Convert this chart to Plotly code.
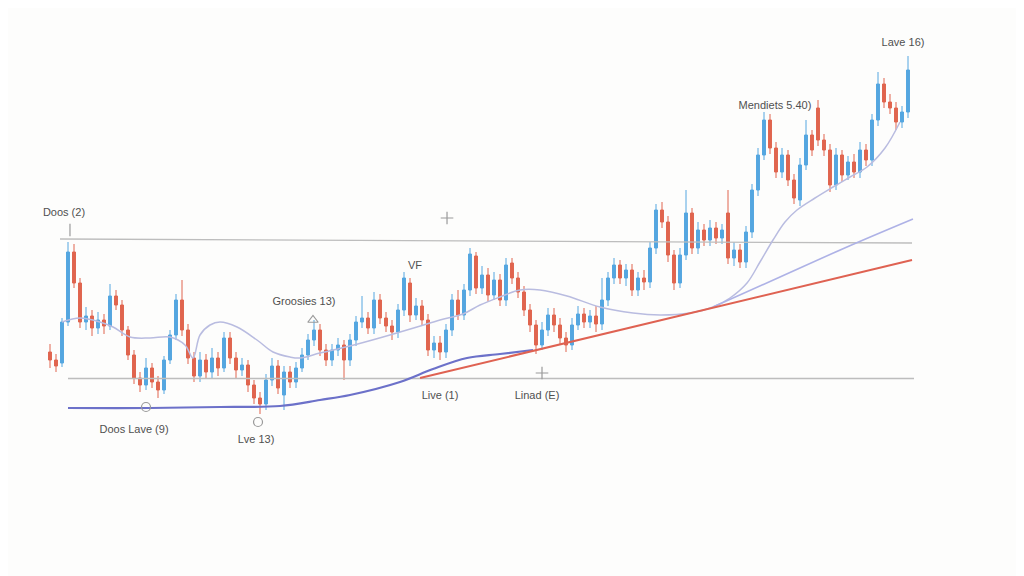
import plotly.graph_objects as go

# ---- candle data (price units) ----
opens = [22.4, 21.6, 21.3, 25.4, 32.4, 29.3, 25.4, 26.0, 24.8, 25.6,
         25.0, 28.0, 27.1, 24.6, 22.1, 19.8, 19.1, 20.8, 19.4, 18.6,
         21.6, 24.1, 27.6, 24.6, 21.8, 20.0, 21.6, 20.4, 21.8, 20.8,
         23.8, 21.8, 20.6, 21.1, 19.1, 17.8, 17.2, 19.6, 21.0, 18.1,
         20.4, 19.4, 20.8, 22.1, 23.6, 24.6, 22.6, 21.6, 22.6, 23.1,
         21.6, 23.6, 25.4, 25.8, 24.8, 27.6, 25.8, 25.0, 24.4, 26.6,
         29.3, 26.1, 27.0, 25.6, 22.6, 23.3, 22.4, 24.6, 27.6, 26.1,
         28.6, 32.0, 28.8, 30.1, 28.1, 29.6, 27.6, 31.3, 29.8, 28.4,
         26.6, 25.1, 23.1, 24.6, 26.1, 25.1, 23.8, 23.1, 25.1, 26.2,
         25.4, 26.0, 25.2, 27.6, 29.8, 31.1, 29.8, 30.6, 28.6, 29.8,
         29.4, 32.8, 36.6, 35.4, 32.1, 29.3, 32.1, 36.3, 32.8, 34.6,
         33.6, 34.8, 33.8, 36.3, 31.8, 32.6, 31.4, 34.4, 38.6, 42.1,
         45.6, 42.8, 40.4, 42.1, 39.6, 37.6, 41.1, 44.1, 46.8, 43.6,
         42.6, 39.1, 42.1, 40.1, 41.4, 40.4, 42.6, 41.6, 45.6, 49.2,
         47.4, 46.8, 45.4, 46.4]
closes = [21.6, 21.0, 25.4, 32.4, 29.3, 25.4, 26.0, 24.8, 25.6, 25.0,
          28.0, 27.1, 24.6, 22.1, 19.8, 19.1, 20.8, 19.4, 18.6, 21.6,
          24.1, 27.6, 24.6, 21.8, 20.0, 21.6, 20.4, 21.8, 20.8, 23.8,
          21.8, 20.6, 21.1, 19.1, 17.8, 17.2, 19.6, 21.0, 18.8, 20.4,
          19.4, 20.8, 22.1, 23.6, 24.6, 22.6, 21.6, 22.6, 23.1, 21.6,
          23.6, 25.4, 25.8, 24.8, 27.6, 25.8, 25.0, 24.4, 26.6, 29.8,
          26.1, 27.0, 25.6, 22.6, 23.3, 22.4, 24.6, 27.6, 26.1, 28.6,
          32.2, 28.8, 30.1, 28.1, 29.6, 27.6, 31.1, 29.8, 28.4, 26.6,
          25.1, 23.1, 24.6, 26.1, 25.1, 23.8, 23.1, 25.1, 26.2, 25.4,
          26.0, 25.2, 27.6, 29.8, 31.1, 29.8, 30.6, 28.6, 29.8, 29.4,
          32.8, 36.6, 35.4, 32.1, 29.3, 32.1, 36.3, 32.8, 34.6, 33.6,
          34.8, 33.8, 34.6, 31.8, 32.6, 31.4, 34.4, 38.6, 42.1, 45.6,
          42.8, 40.4, 42.1, 39.6, 37.8, 41.1, 44.1, 42.6, 43.6, 42.6,
          39.1, 42.1, 40.1, 41.4, 40.4, 42.6, 41.6, 45.6, 49.2, 47.4,
          46.8, 45.4, 46.4, 50.6]
highs = [23.2, 22.2, 25.8, 33.4, 33.2, 29.8, 26.9, 26.6, 26.4, 26.2,
         29.2, 28.6, 27.6, 25.0, 22.6, 20.4, 21.8, 21.3, 20.0, 22.0,
         24.6, 28.2, 29.6, 25.2, 22.4, 22.4, 22.2, 22.8, 22.4, 24.4,
         24.4, 22.4, 21.8, 21.6, 19.6, 18.4, 20.2, 21.8, 21.6, 21.0,
         21.0, 21.4, 22.8, 24.2, 25.6, 25.2, 23.2, 23.2, 23.8, 23.6,
         24.2, 26.0, 28.0, 26.4, 28.4, 28.2, 26.4, 25.6, 27.2, 30.4,
         29.8, 27.8, 27.6, 26.2, 24.0, 24.0, 25.2, 28.2, 28.6, 29.2,
         32.8, 32.4, 31.0, 30.8, 30.4, 30.2, 31.8, 31.8, 30.4, 29.0,
         27.2, 25.6, 25.4, 26.8, 26.8, 25.8, 24.4, 25.8, 27.0, 26.8,
         26.6, 27.0, 29.8, 30.4, 31.8, 31.6, 31.2, 31.2, 30.4, 30.6,
         33.4, 37.2, 37.4, 36.0, 32.6, 32.8, 38.6, 36.8, 35.4, 35.2,
         35.6, 35.4, 35.2, 38.6, 33.4, 33.2, 35.0, 39.2, 42.8, 46.4,
         46.2, 43.4, 42.8, 42.6, 40.2, 41.8, 45.6, 44.6, 47.6, 44.2,
         43.2, 42.8, 42.6, 42.0, 42.2, 43.4, 43.2, 46.2, 50.4, 49.8,
         48.2, 47.4, 47.0, 52.0]
lows = [20.8, 20.4, 20.9, 25.0, 28.8, 24.8, 24.6, 24.0, 24.2, 24.2,
        24.6, 26.6, 24.0, 21.6, 19.2, 18.4, 18.6, 18.8, 17.8, 18.2,
        21.2, 23.6, 24.0, 21.2, 19.4, 19.4, 19.8, 19.8, 20.0, 20.4,
        21.2, 19.8, 20.0, 18.4, 17.2, 16.2, 16.6, 19.0, 18.2, 16.6,
        18.8, 18.8, 20.4, 21.6, 23.0, 22.0, 21.0, 21.0, 22.0, 19.6,
        21.0, 23.0, 24.8, 24.2, 24.2, 25.2, 24.4, 23.6, 23.8, 26.0,
        25.4, 25.6, 25.0, 22.0, 21.8, 21.6, 21.8, 24.0, 25.6, 25.6,
        28.0, 28.2, 28.2, 27.4, 27.6, 27.0, 27.0, 29.2, 27.8, 26.0,
        24.4, 22.2, 22.6, 24.0, 24.4, 23.2, 22.4, 22.6, 24.6, 24.8,
        24.8, 24.4, 24.6, 27.0, 29.2, 29.2, 29.0, 28.0, 28.0, 28.6,
        28.8, 32.2, 34.8, 31.4, 28.6, 28.8, 31.6, 32.2, 32.2, 33.0,
        33.0, 33.2, 33.2, 31.2, 31.0, 30.8, 30.8, 33.8, 38.0, 41.6,
        42.2, 39.8, 39.8, 39.0, 37.2, 37.0, 40.6, 42.0, 43.0, 42.0,
        38.4, 38.6, 39.4, 39.6, 39.8, 39.8, 41.0, 41.0, 45.0, 46.8,
        46.2, 44.6, 44.8, 45.8]
idx = list(range(len(closes)))

# moving-average style curve
ma_x = [2.0, 5.0, 8.33, 10.5, 13.33, 16.67, 20.0, 22.5, 23.83, 25.0,
        26.67, 28.33, 31.17, 34.5, 37.17, 40.0, 41.67, 45.0, 50.0, 55.5,
        61.17, 65.0, 68.83, 71.67, 75.0, 78.33, 81.67, 86.17, 91.67, 97.17,
        101.67, 106.67, 110.5, 113.33, 116.17, 118.33, 120.5, 122.5, 124.5, 127.5,
        130.5, 133.33, 136.17, 139.17, 141.67]
ma_y = [25.4, 25.8, 25.4, 24.9, 23.9, 23.8, 23.9, 23.1, 21.8, 24.1,
        25.1, 25.4, 24.9, 23.6, 22.4, 21.9, 21.8, 22.3, 23.0, 23.9,
        24.9, 25.6, 26.2, 27.1, 27.9, 28.6, 28.6, 28.0, 26.9, 26.3,
        26.1, 26.3, 26.9, 27.8, 29.3, 31.4, 33.6, 35.4, 36.6, 37.8,
        38.9, 39.9, 40.9, 42.8, 45.4]

# dark blue support curve
blue_x = [3.0, 16.67, 28.33, 38.33, 45.0, 50.0, 58.33, 63.83, 69.5, 75.0, 80.5]
blue_y = [16.8, 16.8, 16.9, 17.0, 17.6, 18.1, 19.4, 20.7, 21.8, 22.2, 22.6]

# red trend line
red_x = [61.67, 143.67]
red_y = [19.8, 31.6]

# light lavender trend line
lav_x = [110.5, 121.67, 132.83, 143.83]
lav_y = [26.9, 29.9, 32.9, 35.7]

# horizontal levels
upper_x = [1.67, 143.67]
upper_y = [33.7, 33.3]
lower_x = [3.0, 144.0]
lower_y = [19.75, 19.75]

# annotations
label_text = ["Doos (2)", "Doos Lave (9)", "Lve 13)", "Groosies 13)", "VF",
              "Live (1)", "Linad (E)", "Mendiets 5.40)", "Lave 16)"]
label_x = [2.33, 14.0, 34.33, 42.33, 60.83, 65.0, 81.17, 120.83, 142.17]
label_y = [36.3, 14.6, 13.6, 27.4, 31.0, 18.0, 18.0, 47.0, 53.3]

mark_x = [3.33, 16.0, 34.67, 43.83, 66.17, 82.0]
mark_y = [34.6, 16.9, 15.4, 25.6, 35.8, 20.3]
mark_sym = ["line-ns-open", "circle-open", "circle-open", "triangle-up-open", "cross-thin-open", "cross-thin-open"]

fig = go.Figure()

grey = "#bdbdbd"
fig.add_trace(go.Scatter(x=upper_x, y=upper_y, mode="lines",
                         line=dict(color=grey, width=1.3), hoverinfo="skip"))
fig.add_trace(go.Scatter(x=lower_x, y=lower_y, mode="lines",
                         line=dict(color=grey, width=1.3), hoverinfo="skip"))
fig.add_trace(go.Scatter(x=ma_x, y=ma_y, mode="lines",
                         line=dict(color="#b9bce0", width=1.5, shape="spline"), hoverinfo="skip"))
fig.add_trace(go.Scatter(x=lav_x, y=lav_y, mode="lines",
                         line=dict(color="#aeb2e6", width=1.6, shape="spline"), hoverinfo="skip"))
fig.add_trace(go.Scatter(x=blue_x, y=blue_y, mode="lines",
                         line=dict(color="#6c71c9", width=2.2, shape="spline"), hoverinfo="skip"))
fig.add_trace(go.Scatter(x=red_x, y=red_y, mode="lines",
                         line=dict(color="#df6252", width=2.0), hoverinfo="skip"))

fig.add_trace(go.Candlestick(
    x=idx, open=opens, high=highs, low=lows, close=closes,
    increasing=dict(line=dict(color="#55a6e0", width=1), fillcolor="#55a6e0"),
    decreasing=dict(line=dict(color="#e0654f", width=1), fillcolor="#e0654f"),
    whiskerwidth=0,
))

fig.add_trace(go.Scatter(x=mark_x, y=mark_y, mode="markers",
                         marker=dict(symbol=mark_sym, size=9, color="#9a9a9a",
                                     line=dict(color="#9a9a9a", width=1.2)),
                         hoverinfo="skip"))
fig.add_trace(go.Scatter(x=label_x, y=label_y, mode="text", text=label_text,
                         textfont=dict(family="Liberation Sans, Arial, sans-serif",
                                       size=11, color="#505050"),
                         hoverinfo="skip"))

# the page adds an 8px body margin, so the axis ranges are offset to compensate
fig.update_layout(
    width=1024, height=576,
    margin=dict(l=0, r=0, t=0, b=0),
    paper_bgcolor="#fdfdfc", plot_bgcolor="#fdfdfc",
    showlegend=False,
    xaxis=dict(range=[-7.0, 163.667], visible=False, rangeslider=dict(visible=False)),
    yaxis=dict(range=[-0.8, 56.8], visible=False),
)

fig.write_html("out.html")
